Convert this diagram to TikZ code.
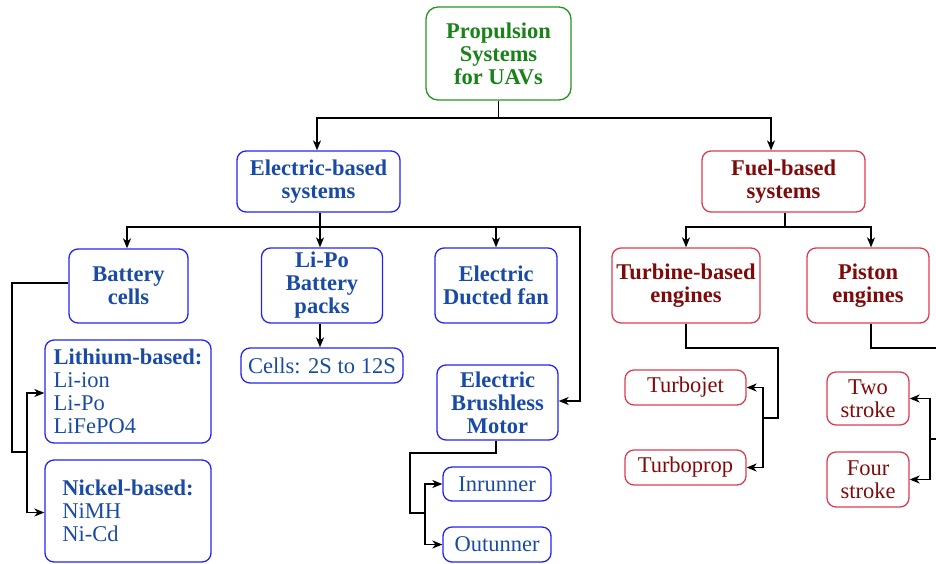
\documentclass[tikz,border=0pt]{standalone}
\usepackage{fontspec}
\setmainfont{Liberation Serif}
\usetikzlibrary{arrows.meta}
\definecolor{gtext}{RGB}{25,130,25}
\definecolor{gline}{RGB}{35,150,35}
\definecolor{btext}{RGB}{25,75,165}
\definecolor{bline}{RGB}{35,35,245}
\definecolor{rtext}{RGB}{128,10,10}
\definecolor{rline}{RGB}{220,60,80}
\tikzset{
  box/.style={draw, rounded corners=9pt, line width=1.3pt, inner sep=0pt, align=center,
    font=\fontsize{22.5}{23}\selectfont},
  gbox/.style={box, draw=gline, text=gtext, font=\fontsize{22.5}{23}\selectfont\bfseries, rounded corners=12pt},
  bboxb/.style={box, draw=bline, text=btext, font=\fontsize{22.5}{23}\selectfont\bfseries},
  bboxn/.style={box, draw=bline, text=btext},
  rboxb/.style={box, draw=rline, text=rtext, font=\fontsize{22.5}{23}\selectfont\bfseries},
  rboxn/.style={box, draw=rline, text=rtext},
  sz/.style 2 args={minimum width=#1pt, minimum height=#2pt},
  arr/.style={-{Stealth[length=10pt,width=8pt,inset=3pt]}, line width=1.4pt},
  ln/.style={line width=1.4pt},
}
\begin{document}
\begin{tikzpicture}[x=1pt,y=-1pt]
\useasboundingbox (0,0) rectangle (936,563);
\clip (0,0) rectangle (936,563);
% nodes
\node[gbox, sz={145}{93}] (top) at (498.5,53.5) {Propulsion\\Systems\\for UAVs};
\node[bboxb, sz={163}{61}] (elec) at (318.5,181.5) {Electric-based\\systems};
\node[rboxb, sz={163}{61}] (fuel) at (783.5,181.5) {Fuel-based\\systems};
\node[bboxb, sz={119}{74}] (batt) at (128.5,286) {Battery\\cells};
\node[bboxb, sz={121}{75}] (lipo) at (322,285.5) {Li-Po\\Battery\\packs};
\node[bboxb, sz={122}{75}] (edf) at (496,285.5) {Electric\\Ducted fan};
\node[bboxn, sz={162}{35}] (cells) at (322,365.5) {Cells: 2S to 12S};
\node[bboxb, sz={121}{75}] (bldc) at (497.5,402.5) {Electric\\Brushless\\Motor};
\node[bboxn, sz={108}{34}] (inr) at (497,484) {Inrunner};
\node[bboxn, sz={108}{35}] (outr) at (497,544.5) {Outunner};
\node[bboxn, sz={166}{103}, align=left] (lith) at (128,391.5) {\textbf{Lithium-based:}\\Li-ion\\Li-Po\\LiFePO4};
\node[bboxn, sz={166}{102}, align=left] (nick) at (128,511) {\textbf{Nickel-based:}\\NiMH\\Ni-Cd};
\node[rboxb, sz={148}{75}] (turb) at (686,285.5) {Turbine-based\\engines};
\node[rboxb, sz={122}{75}] (pist) at (868,285.5) {Piston\\engines};
\node[rboxn, sz={121}{35}] (tjet) at (685.5,387.5) {Turbojet};
\node[rboxn, sz={121}{35}] (tprop) at (685.5,467.5) {Turboprop};
\node[rboxn, sz={82}{53}] (two) at (868,398.5) {Two\\stroke};
\node[rboxn, sz={82}{55}] (four) at (868,479.5) {Four\\stroke};
% junctions
\coordinate (j1) at (498.5,118);
\coordinate (eb) at (320,227);
\coordinate (er) at (580,227);
\coordinate (fj) at (785,227);
\coordinate (bj) at (27,452);
\coordinate (mj) at (425,513);
\coordinate (tj) at (763,418);
\coordinate (pj) at (930,439);
% connectors
\draw[ln] (top.south) -- (j1);
\draw[arr] (j1) -| ([xshift=-1.5pt]elec.north);
\draw[arr] (j1) -| ([xshift=-12.5pt]fuel.north);
\draw[ln] ([xshift=1.5pt]elec.south) -- (eb);
\draw[arr] (eb) -| ([xshift=-1.5pt]batt.north);
\draw[arr] (eb) -- (eb |- lipo.north);
\draw[arr] (eb) -| (edf.north);
\draw[arr] (eb) -- (er) |- ([yshift=1.5pt]bldc.east);
\draw[arr] ([xshift=-2pt]lipo.south) -- ([xshift=-2pt]lipo.south |- cells.north);
\draw[ln] ([yshift=3pt]batt.west) -| (12,452) -- (bj);
\draw[arr] (bj) |- ([yshift=-1.5pt]lith.west);
\draw[arr] (bj) |- ([yshift=-1.5pt]nick.west);
\draw[ln] ([xshift=-1.5pt]bldc.south) |- (410,453) |- (mj);
\draw[arr] (mj) |- (inr.west);
\draw[arr] (mj) |- (outr.west);
\draw[ln] (fuel.south |- elec.south) ++(1.5,0) -- (fj);
\draw[arr] (fj) -| (turb.north);
\draw[arr] (fj) -| ([xshift=3pt]pist.north);
\draw[ln] (turb.south) |- (778,348) |- (tj);
\draw[arr] (tj) |- (tjet.east);
\draw[arr] (tj) |- (tprop.east);
\draw[ln] ([xshift=3pt]pist.south) |- (950,348) |- (pj);
\draw[arr] (pj) |- (two.east);
\draw[arr] (pj) |- (four.east);
\end{tikzpicture}
\end{document}
